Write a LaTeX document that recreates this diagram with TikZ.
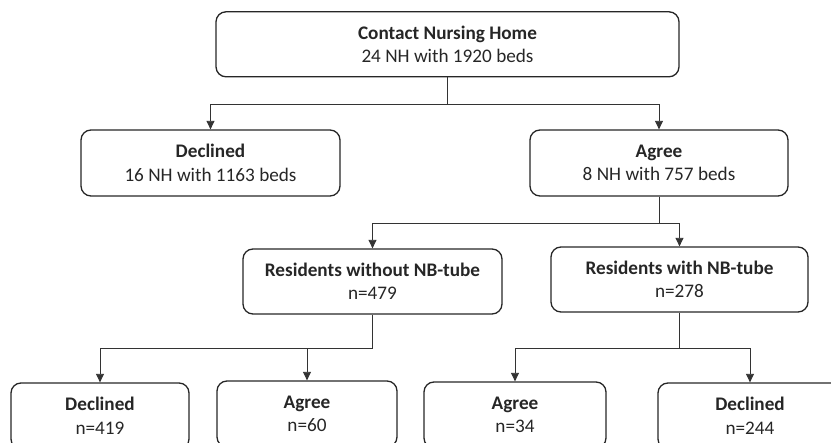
\documentclass[tikz,border=0pt]{standalone}
\usepackage{fontspec}
\setmainfont{Carlito}
\usetikzlibrary{arrows.meta}
\tikzset{
  box/.style={draw=black!85, line width=1.3pt, rounded corners=10pt, inner sep=0pt,
    align=center, minimum height=65pt, font=\fontsize{19.2}{23.5}\selectfont, text=black!85},
  conn/.style={draw=black!80, line width=0.9pt},
  arr/.style={conn, -{Triangle[width=8pt,length=8.5pt]}}
}
\begin{document}
\begin{tikzpicture}[x=1pt,y=-1pt]
\useasboundingbox (0,0) rectangle (831,443);
\clip (0,0) rectangle (831,443);
\node[box, minimum width=463pt] (top) at (447.5,44.3) {\textbf{Contact Nursing Home}\\24 NH with 1920 beds};
\node[box, minimum width=259pt, minimum height=66pt] (dec1) at (210.5,163) {\textbf{Declined}\\16 NH with 1163 beds};
\node[box, minimum width=258pt, minimum height=66pt] (agr1) at (659,163) {\textbf{Agree}\\8 NH with 757 beds};
\node[box, minimum width=259pt] (wo) at (372.5,281.5) {\textbf{Residents without NB-tube}\\n=479};
\node[box, minimum width=257pt] (wi) at (679.5,279.5) {\textbf{Residents with NB-tube}\\n=278};
\node[box, minimum width=178pt, minimum height=66pt] (b1) at (100,416) {\textbf{Declined}\\n=419};
\node[box, minimum width=180pt, minimum height=66pt] (b2) at (307,414) {\textbf{Agree}\\n=60};
\node[box, minimum width=182pt, minimum height=66pt] (b3) at (515,415) {\textbf{Agree}\\n=34};
\node[box, minimum width=184pt, minimum height=66pt] (b4) at (750,416) {\textbf{Declined}\\n=244};
\coordinate (j1) at (447.5,104);
\coordinate (j2) at (659,223);
\coordinate (j3) at (372.5,348);
\coordinate (j4) at (679.5,348);
\draw[conn] (top.south) -- (j1);
\draw[arr] (j1) -| (dec1.north);
\draw[arr] (j1) -| (agr1.north);
\draw[conn] (agr1.south) -- (j2);
\draw[arr] (j2) -| (wo.north);
\draw[arr] (j2) -| (wi.north);
\draw[conn] (wo.south) -- (j3);
\draw[arr] (j3) -| (b1.north);
\draw[arr] (j3) -| (b2.north);
\draw[conn] (wi.south) -- (j4);
\draw[arr] (j4) -| (b3.north);
\draw[arr] (j4) -| (b4.north);
\end{tikzpicture}
\end{document}
